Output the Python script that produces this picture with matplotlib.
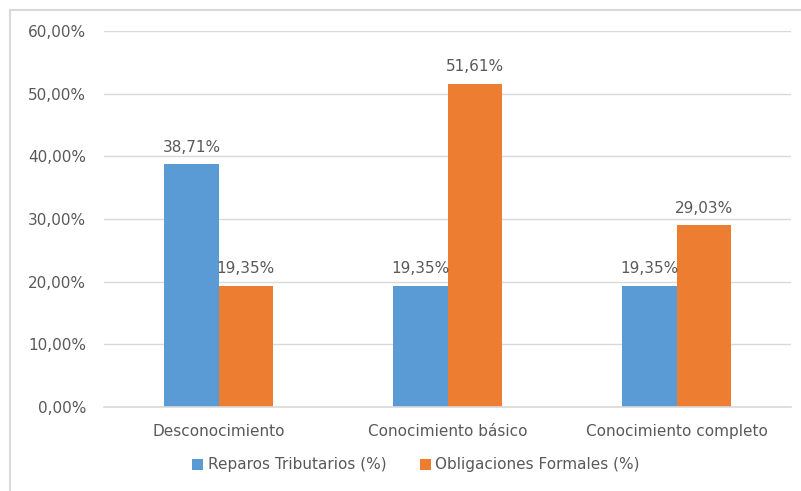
import matplotlib
matplotlib.use("Agg")
import matplotlib.pyplot as plt
from matplotlib.patches import Rectangle
import numpy as np

categories = ["Desconocimiento", "Conocimiento básico", "Conocimiento completo"]
reparos = [38.71, 19.35, 19.35]
obligaciones = [19.35, 51.61, 29.03]
series_names = ["Reparos Tributarios (%)", "Obligaciones Formales (%)"]
yticks = [0, 10, 20, 30, 40, 50, 60]

plt.rcParams['font.family'] = ['DejaVu Sans']
txt = '#595959'
fs = 11

fig = plt.figure(figsize=(8.01, 4.91), dpi=100)
W, H = 801, 491
ax = fig.add_axes([104 / W, 1 - 407 / H, 687 / W, 376 / H])

x = np.arange(len(categories))
bw = 0.236
ax.bar(x - bw / 2, reparos, bw, color='#5B9BD5', label=series_names[0], zorder=3)
ax.bar(x + bw / 2, obligaciones, bw, color='#ED7D31', label=series_names[1], zorder=3)

def fmt(v):
    return f"{v:.2f}".replace('.', ',') + '%'

for xi, v in zip(x - bw / 2, reparos):
    ax.text(xi, v + 1.5, fmt(v), ha='center', va='bottom', fontsize=fs, color=txt)
for xi, v in zip(x + bw / 2, obligaciones):
    ax.text(xi, v + 1.5, fmt(v), ha='center', va='bottom', fontsize=fs, color=txt)

ax.set_xlim(-0.5, 2.5)
ax.set_ylim(0, 60)
ax.set_yticks(yticks)
ax.set_yticklabels([fmt(t) for t in yticks])
ax.set_xticks(x)
ax.set_xticklabels(categories)
ax.tick_params(axis='both', length=0, labelsize=fs, colors=txt)
ax.tick_params(axis='y', pad=13)
ax.tick_params(axis='x', pad=12)
ax.grid(axis='y', color='#D9D9D9', linewidth=1, zorder=0)
ax.axhline(0, color='#D9D9D9', linewidth=1.2, zorder=4, clip_on=False)
for s in ax.spines.values():
    s.set_visible(False)

leg = fig.legend(loc='center', bbox_to_anchor=(416 / W, 1 - 465 / H), ncol=2, frameon=False,
                 fontsize=fs, handlelength=0.7, handleheight=0.7, handletextpad=0.3, columnspacing=2.2)
for t in leg.get_texts():
    t.set_color(txt)

fig.patches.append(Rectangle((10 / W, -0.1), 1.2, 1 - 10 / H + 0.1, transform=fig.transFigure,
                             fill=False, edgecolor='#D9D9D9', linewidth=1.5))

fig.savefig('out.png', dpi=100)
